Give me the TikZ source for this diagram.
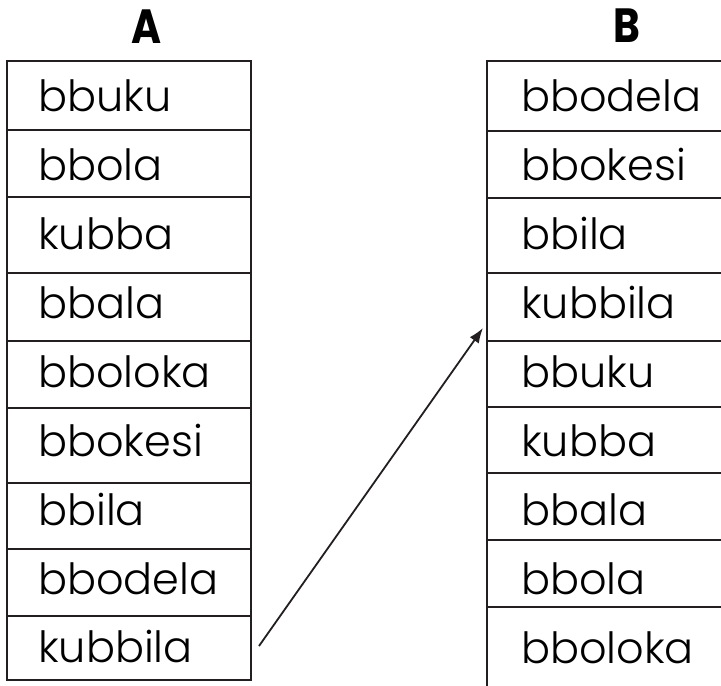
\documentclass[tikz,border=0pt]{standalone}
\usepackage{fontspec}
\setmainfont{Poppins}
\newfontfamily\lightfont{Poppins Light}
\usetikzlibrary{arrows.meta}
\definecolor{ln}{HTML}{231F20}
\tikzset{
  tbl/.style={draw=ln, line width=2.4pt},
  word/.style={anchor=base west, inner sep=0pt, font=\lightfont\fontsize{43}{43}\selectfont},
  head/.style={anchor=base, inner sep=0pt, font=\fontsize{48}{48}\selectfont\bfseries},
  arr/.style={draw=ln, line width=1.8pt, -{Latex[length=15pt,width=11pt]}}
}
\begin{document}
\begin{tikzpicture}[x=1pt,y=-1pt]
\useasboundingbox (0,0) rectangle (721,686);
% headers
\node[head] (hA) at (147,43) {\scalebox{0.85}[1]{A}};
\node[head] (hB) at (627,42) {\scalebox{0.85}[1]{B}};
% table A
\draw[tbl] (7,61) rectangle (251,680);
\foreach \y in {130,197,273,341,408,483,549,616} \draw[tbl] (7,\y) -- (251,\y);
% table B
\draw[tbl] (721,61) -- (487,61) -- (487,686);
\foreach \y in {131,198,273,341,407,473,540,607} \draw[tbl] (487,\y) -- (721,\y);
% words A
\node[word] (a1) at (38,111) {bbuku};
\node[word] (a2) at (38,180) {bbola};
\node[word] (a3) at (38,249) {kubba};
\node[word] (a4) at (38,318) {bbala};
\node[word] (a5) at (38,387) {bboloka};
\node[word] (a6) at (38,456) {bbokesi};
\node[word] (a7) at (38,525) {bbila};
\node[word] (a8) at (38,594) {bbodela};
\node[word] (a9) at (38,662) {kubbila};
% words B
\node[word] (b1) at (521,111) {bbodela};
\node[word] (b2) at (521,180) {bbokesi};
\node[word] (b3) at (521,249) {bbila};
\node[word] (b4) at (521,318) {kubbila};
\node[word] (b5) at (521,387) {bbuku};
\node[word] (b6) at (521,456) {kubba};
\node[word] (b7) at (521,525) {bbala};
\node[word] (b8) at (521,594) {bbola};
\node[word] (b9) at (521,663) {bboloka};
% arrow
\coordinate (s) at (259,646);
\coordinate (t) at (483,328);
\draw[arr] (s) -- (t);
\end{tikzpicture}
\end{document}
